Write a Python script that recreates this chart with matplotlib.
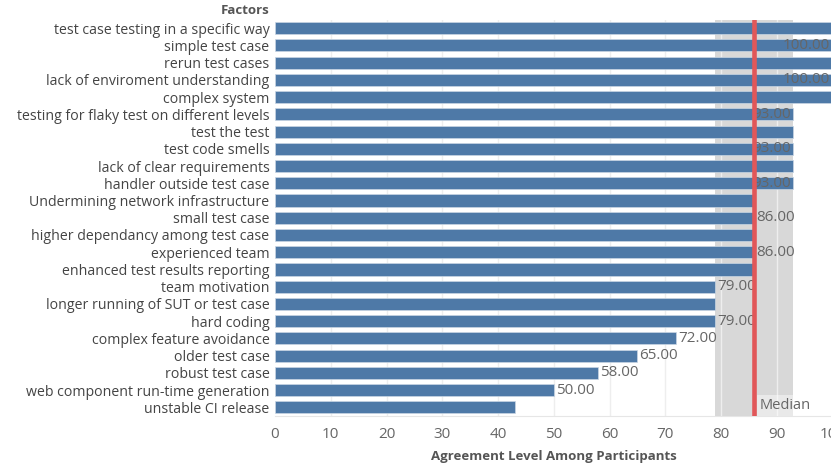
import matplotlib
matplotlib.use("Agg")
import matplotlib.pyplot as plt
from matplotlib import transforms

factors = [
    "test case testing in a specific way",
    "simple test case",
    "rerun test cases",
    "lack of enviroment understanding",
    "complex system",
    "testing for flaky test on different levels",
    "test the test",
    "test code smells",
    "lack of clear requirements",
    "handler outside test case",
    "Undermining network infrastructure",
    "small test case",
    "higher dependancy among test case",
    "experienced team",
    "enhanced test results reporting",
    "team motivation",
    "longer running of SUT or test case",
    "hard coding",
    "complex feature avoidance",
    "older test case",
    "robust test case",
    "web component run-time generation",
    "unstable CI release",
]
agreement = [100, 100, 100, 100, 100, 93, 93, 93, 93, 93, 86, 86, 86, 86, 86,
             79, 79, 79, 72, 65, 58, 50, 43]
show_label = [False, True, False, True, False, True, False, True, False, True,
              False, True, False, True, False, True, False, True, True, True,
              True, True, False]
band_low, band_high = 79, 93
median_value = 86
xticks = [0, 10, 20, 30, 40, 50, 60, 70, 80, 90, 100]

plt.rcParams['font.family'] = ['Open Sans', 'DejaVu Sans']

fig = plt.figure(figsize=(8.31, 4.67), dpi=100)
ax = fig.add_axes([275 / 831, 1 - 416 / 467, 557.5 / 831, (416 - 19.5) / 467])

n = len(factors)
ypos = list(range(n))

ax.axvspan(band_low, band_high, color="#d8d8d8", zorder=0, lw=0)
for t in xticks[1:-1]:
    ax.axvline(t, color="#eeeeee", lw=1, zorder=0.5)

ax.barh(ypos, agreement, height=0.70, color="#4e79a7", edgecolor="#c9d6e4",
        linewidth=0.5, zorder=2)

ax.axvline(median_value, color="#e15759", lw=3.3, zorder=4)

offset_r = transforms.offset_copy(ax.transData, fig=fig, x=-3, y=0, units='dots')
offset_l = transforms.offset_copy(ax.transData, fig=fig, x=2, y=0, units='dots')
for y, v, s in zip(ypos, agreement, show_label):
    if not s:
        continue
    if v >= 93:
        ax.text(v, y, f"{v:.2f}", ha="right", va="center", fontsize=11,
                color="#666666", transform=offset_r, zorder=3)
    else:
        ax.text(v, y, f"{v:.2f}", ha="left", va="center", fontsize=11,
                color="#666666", transform=offset_l, zorder=3)

med_tr = transforms.offset_copy(ax.get_xaxis_transform(), fig=fig, x=5, y=3, units='dots')
ax.text(median_value, 0.0, "Median", transform=med_tr, ha="left", va="bottom",
        fontsize=10.5, color="#666666", zorder=3,
        bbox=dict(boxstyle="square,pad=0.2", fc="white", alpha=None, ec="none"))
# make box semi-transparent while keeping text opaque
ax.texts[-1].get_bbox_patch().set_alpha(0.45)

ax.set_xlim(0, 100)
ax.set_ylim(n - 0.5, -0.5)
ax.set_yticks(ypos)
ax.set_yticklabels(factors, fontsize=10.2, color="#444444")
ax.set_xticks(xticks)
ax.set_xticklabels([str(t) for t in xticks], fontsize=11, color="#666666")
ax.tick_params(axis='both', length=0)
ax.tick_params(axis='y', pad=4)
ax.tick_params(axis='x', pad=8)

for side in ["top", "right", "left"]:
    ax.spines[side].set_visible(False)
ax.spines["bottom"].set_color("#e6e6e6")

ax.set_xlabel("Agreement Level Among Participants", fontsize=9.5,
              fontweight="bold", color="#555555", labelpad=6)

fig.text(270 / 831, 1 - 10 / 467, "Factors", ha="right", va="center",
         fontsize=9.5, fontweight="bold", color="#555555")

fig.savefig("out.png", dpi=100)
